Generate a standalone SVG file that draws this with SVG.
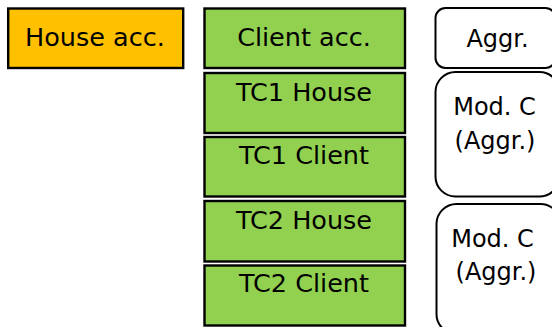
<svg xmlns="http://www.w3.org/2000/svg" width="552" height="327" viewBox="0 0 552 327">
<style>
.box{stroke:#000;stroke-width:2.4}
.house{fill:#FFC000}
.green{fill:#92D050}
.rnd{fill:#fff;stroke:#000;stroke-width:2}
text{font-family:"DejaVu Sans","Liberation Sans",sans-serif;fill:#000;text-anchor:middle}
.big{font-size:25.5px}
.sm{font-size:24px}
</style>
<rect width="552" height="327" fill="#fff"/>
<g id="house-acc"><rect class="box house" x="8.2" y="8.5" width="175" height="59.5"/><text class="big" x="95" y="45.7">House acc.</text></g>
<g id="client-acc"><rect class="box green" x="204.5" y="8.5" width="200.5" height="59.5"/><text class="big" x="304" y="45.7">Client acc.</text></g>
<g id="tc1-house"><rect class="box green" x="204.5" y="73" width="200.5" height="60"/><text class="big" x="304" y="101">TC1 House</text></g>
<g id="tc1-client"><rect class="box green" x="204.5" y="137" width="200.5" height="59.5"/><text class="big" x="304" y="163.5">TC1 Client</text></g>
<g id="tc2-house"><rect class="box green" x="204.5" y="201" width="200.5" height="60.5"/><text class="big" x="304" y="228.5">TC2 House</text></g>
<g id="tc2-client"><rect class="box green" x="204.5" y="265.5" width="200.5" height="60"/><text class="big" x="304" y="292">TC2 Client</text></g>
<g id="aggr"><rect class="rnd" x="435.5" y="8" width="120" height="60" rx="10"/><text class="sm" x="497.5" y="47">Aggr.</text></g>
<g id="modc1"><rect class="rnd" x="435.5" y="72" width="124" height="124.5" rx="20"/><text class="sm" x="494.5" y="115">Mod. C</text><text class="sm" x="495" y="148.5">(Aggr.)</text></g>
<g id="modc2"><rect class="rnd" x="436.5" y="204" width="124" height="130" rx="20"/><text class="sm" x="492.5" y="247.3">Mod. C</text><text class="sm" x="496" y="280">(Aggr.)</text></g>
<g id="connectors"></g>
</svg>
